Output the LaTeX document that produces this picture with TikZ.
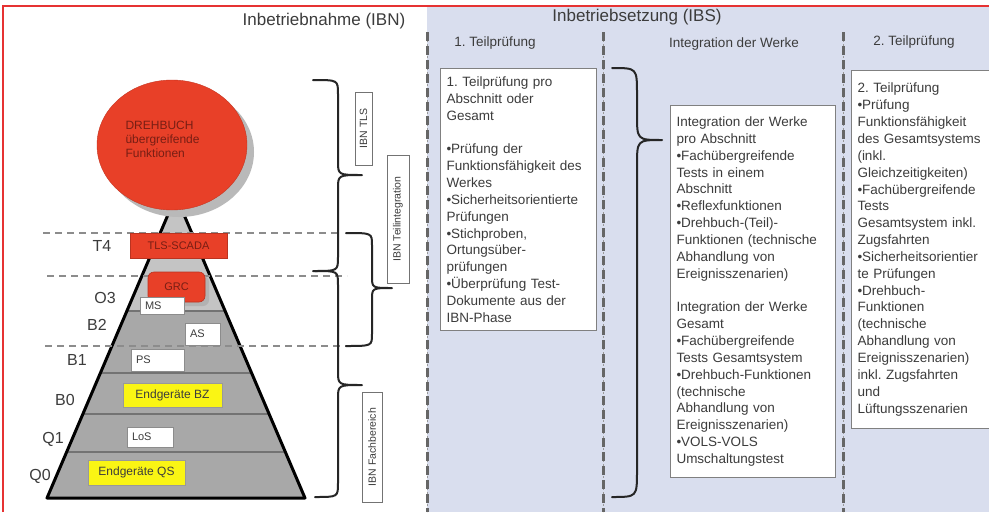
\documentclass[tikz,border=0pt]{standalone}
\usepackage{fontspec}
\setmainfont{Liberation Sans}
\usetikzlibrary{shapes.geometric}
\definecolor{ibsblue}{RGB}{217,222,238}
\definecolor{framered}{RGB}{230,50,50}
\definecolor{ellred}{RGB}{232,64,40}
\definecolor{darkred}{RGB}{120,30,20}
\definecolor{pyrgray}{RGB}{168,168,168}
\definecolor{pyrlight}{RGB}{196,196,196}
\definecolor{txtgray}{RGB}{60,60,60}
\definecolor{endyellow}{RGB}{250,245,20}
\frenchspacing
\newcommand{\curlyr}[7]{\draw[brc] (#1,#4) .. controls (#2,#4) .. (#2,#4+#7) -- (#2,#5-#7) .. controls (#2,#5) .. (#3,#5) .. controls (#2,#5) .. (#2,#5+#7) -- (#2,#6-#7) .. controls (#2,#6) .. (#1,#6);}
\begin{document}
\begin{tikzpicture}[x=1pt,y=-1pt,
  hdr/.style={font=\fontsize{17}{20}\selectfont, text=txtgray},
  subhdr/.style={font=\fontsize{13.5}{16}\selectfont, text=txtgray},
  lvl/.style={font=\fontsize{16}{18}\selectfont, text=txtgray},
  pbox/.style={draw=black!45, fill=white, line width=0.8pt, font=\fontsize{11}{13}\selectfont, text=txtgray, inner xsep=5pt, inner ysep=0pt, align=left},
  ybox/.style={draw=black!40, fill=endyellow, line width=0.8pt, font=\fontsize{12}{14}\selectfont, text=txtgray, inner sep=0pt},
  rbox/.style={draw=ellred!80!black, fill=ellred, line width=0.6pt, font=\fontsize{11}{13}\selectfont, text=darkred, inner sep=0pt},
  ibnlbl/.style={draw=black!55, fill=white, line width=0.8pt, rotate=90, font=\fontsize{10.5}{12}\selectfont, text=txtgray, inner sep=1pt},
  txtbox/.style={draw=black!50, fill=white, line width=1pt, anchor=north west, align=left, inner xsep=6pt, inner ysep=6pt, font=\fontsize{13.5}{16.85}\selectfont, text=txtgray},
  brc/.style={draw=black!85, line width=2pt, line cap=round, line join=round},
  lvline/.style={draw=black!45, line width=1.3pt, dash pattern=on 7pt off 5pt},
  band/.style={draw=black!55, line width=1.2pt},
  sep/.style={draw=black!60, line width=3pt, dash pattern=on 9pt off 5pt},
  septhin/.style={draw=black!40, line width=0.7pt, dash pattern=on 2pt off 2pt}]
\useasboundingbox (0,0) rectangle (989,512);
\fill[white] (0,0) rectangle (989,512);
\fill[ibsblue] (427,7) rectangle (989,512);
\draw[framered, line width=1.5pt] (3,512) -- (3,6) -- (989,6);

\foreach \sx in {427,603,843} {
  \draw[septhin] (\sx,32) -- (\sx,512);
  \draw[sep] (\sx,32) -- (\sx,512);
}

\node[hdr] (ibn) at (324,21) {Inbetriebnahme (IBN)};
\node[hdr] (ibs) at (637,17) {Inbetriebsetzung (IBS)};
\node[subhdr] (tp1h) at (495,43) {1. Teilprüfung};
\node[subhdr] (intwh) at (734,44) {Integration der Werke};
\node[subhdr] (tp2h) at (914,42) {2. Teilprüfung};

\coordinate (apex) at (176,196);
\coordinate (bl) at (47,498);
\coordinate (br) at (305,498);
\fill[pyrgray] (apex) -- (bl) -- (br) -- cycle;
\begin{scope}
\clip (apex) -- (bl) -- (br) -- cycle;
\fill[pyrlight] (40,190) rectangle (320,311);
\foreach \y in {311,373,414,452} \draw[band] (40,\y) -- (320,\y);
\end{scope}
\draw[line width=3pt, line join=round] (apex) -- (bl) -- (br) -- cycle;

\draw[lvline] (43,233) -- (340,233);
\draw[lvline] (47,276) -- (347,276);
\draw[lvline] (45,346) -- (348,346);

\fill[gray!55] (179,152) ellipse [x radius=75, y radius=65];
\node[ellipse, fill=ellred, draw=ellred!85!black, minimum width=150pt, minimum height=130pt, inner sep=0pt] (drehbuch) at (172,145) {};
\node[anchor=west, align=left, font=\fontsize{12}{14}\selectfont, text=darkred] (dbtxt) at (122,139) {DREHBUCH\\übergreifende\\Funktionen};

\node[rbox, minimum width=97pt, minimum height=25pt] (tls) at (178.5,245.5) {TLS-SCADA};
\fill[gray!60, rounded corners=6pt] (152,276) rectangle (209,306);
\node[rbox, rounded corners=6pt, minimum width=57pt, minimum height=30pt] (grc) at (176.5,287) {GRC};
\node[pbox, text width=34pt, minimum height=17pt] (ms) at (162,305.5) {MS};
\node[pbox, text width=25pt, minimum height=22pt] (as) at (202.5,334) {AS};
\node[pbox, text width=43pt, minimum height=22pt] (ps) at (157.5,360) {PS};
\node[ybox, minimum width=99pt, minimum height=24pt] (bz) at (172.5,395) {Endgeräte BZ};
\node[pbox, text width=36pt, minimum height=20pt] (los) at (150,437) {LoS};
\node[ybox, minimum width=97pt, minimum height=25pt] (qs) at (136.5,472.5) {Endgeräte QS};

\node[lvl] (t4) at (102,246) {T4};
\node[lvl] (o3) at (105,298) {O3};
\node[lvl] (b2) at (97,325) {B2};
\node[lvl] (b1) at (77,360) {B1};
\node[lvl] (b0) at (65,400) {B0};
\node[lvl] (q1) at (53,439) {Q1};
\node[lvl] (q0) at (40,476) {Q0};

\curlyr{313}{338}{362}{80}{175}{271}{14}
\curlyr{315}{338}{362}{271}{385}{497}{14}
\curlyr{346}{372}{392}{233}{288}{346}{12}

\node[ibnlbl, minimum width=73pt, minimum height=17pt] (ibntls) at (363.5,128.5) {IBN TLS};
\node[ibnlbl, minimum width=128pt, minimum height=22pt] (ibnti) at (398,219) {IBN Teilintegration};
\node[ibnlbl, minimum width=110pt, minimum height=20pt] (ibnfb) at (372,447) {IBN Fachbereich};

\node[txtbox, text width=144pt, minimum height=262pt] (tp1) at (440,68) {1. Teilprüfung pro\\Abschnitt oder\\Gesamt\\[16.85pt]•Prüfung der\\Funktionsfähigkeit des\\Werkes\\•Sicherheitsorientierte\\Prüfungen\\•Stichproben,\\Ortungsüber-\\prüfungen\\•Überprüfung Test-\\Dokumente aus der\\IBN-Phase};

\curlyr{612}{637}{662}{68}{140}{497}{26}

\node[txtbox, text width=153pt, minimum height=372pt] (intw) at (670,105) {Integration der Werke\\pro Abschnitt\\•Fachübergreifende\\Tests in einem\\Abschnitt\\•Reflexfunktionen\\•Drehbuch-(Teil)-\\Funktionen (technische\\Abhandlung von\\Ereignisszenarien)\\[16.85pt]Integration der Werke\\Gesamt\\•Fachübergreifende\\Tests Gesamtsystem\\•Drehbuch-Funktionen\\(technische\\Abhandlung von\\Ereignisszenarien)\\•VOLS-VOLS\\Umschaltungstest};

\node[txtbox, text width=140pt, minimum height=358pt] (tp2) at (851,70) {2. Teilprüfung\\•Prüfung\\Funktionsfähigkeit\\des Gesamtsystems\\(inkl.\\Gleichzeitigkeiten)\\•Fachübergreifende\\Tests\\Gesamtsystem inkl.\\Zugsfahrten\\•Sicherheitsorientier\\te Prüfungen\\•Drehbuch-\\Funktionen\\(technische\\Abhandlung von\\Ereignisszenarien)\\inkl. Zugsfahrten\\und\\Lüftungsszenarien};
\end{tikzpicture}
\end{document}
